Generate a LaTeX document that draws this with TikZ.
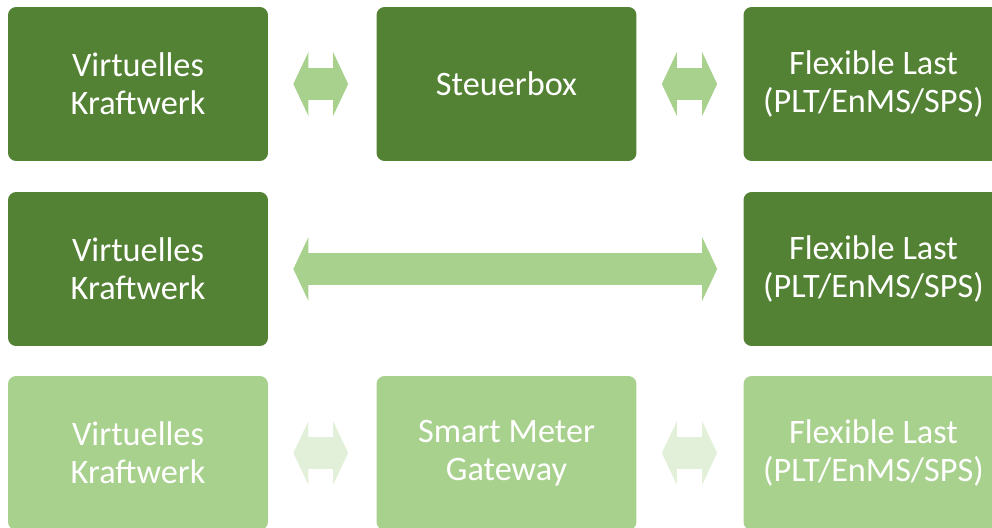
\documentclass[tikz,border=0pt]{standalone}
\usepackage{fontspec}
\setmainfont{Carlito}
\usetikzlibrary{calc,arrows.meta}
\definecolor{gdark}{HTML}{548235}
\definecolor{glight}{HTML}{A9D18E}
\definecolor{gpale}{HTML}{E2F0D9}

\begin{document}
\begin{tikzpicture}[x=0.02cm,y=-0.02cm,
  box/.style={rounded corners=0.16cm,minimum width=5.2cm,minimum height=3.08cm,
    align=center,text=white,inner sep=0pt,font=\fontsize{19.5}{21.5}\selectfont},
  darkbox/.style={box,fill=gdark},
  lightbox/.style={box,fill=glight},
  link/.style={draw=glight,line width=0.64cm,
    {Triangle[length=0.3cm,width=1.26cm]}-{Triangle[length=0.3cm,width=1.26cm]}}]
  \useasboundingbox (0,0) rectangle (992,528);
  % ===== Zeile 1: Steuerbox =====
  \node[darkbox] (vk1) at (138,84) {Virtuelles\\Kraftwerk};
  \node[darkbox] (sb) at (506.5,84) {Steuerbox};
  \node[darkbox] (fl1) at (873.5,84) {Flexible Last\\(PLT/EnMS/SPS)};
  \draw[link] ($(vk1.east)+(25,0)$) -- ($(sb.west)+(-28,0)$);
  \draw[link] ($(sb.east)+(25,0)$) -- ($(fl1.west)+(-26,0)$);
  % ===== Zeile 2: direkt =====
  \node[darkbox] (vk2) at (138,269) {Virtuelles\\Kraftwerk};
  \node[darkbox] (fl2) at (873.5,269) {Flexible Last\\(PLT/EnMS/SPS)};
  \draw[link] ($(vk2.east)+(25,0)$) -- ($(fl2.west)+(-26,0)$);
  % ===== Zeile 3: Smart Meter Gateway =====
  \node[lightbox] (vk3) at (138,453) {Virtuelles\\Kraftwerk};
  \node[lightbox] (smgw) at (506.5,453) {Smart Meter\\Gateway};
  \node[lightbox] (fl3) at (873.5,453) {Flexible Last\\(PLT/EnMS/SPS)};
  \draw[link,draw=gpale] ($(vk3.east)+(25,0)$) -- ($(smgw.west)+(-28,0)$);
  \draw[link,draw=gpale] ($(smgw.east)+(25,0)$) -- ($(fl3.west)+(-26,0)$);
\end{tikzpicture}
\end{document}
